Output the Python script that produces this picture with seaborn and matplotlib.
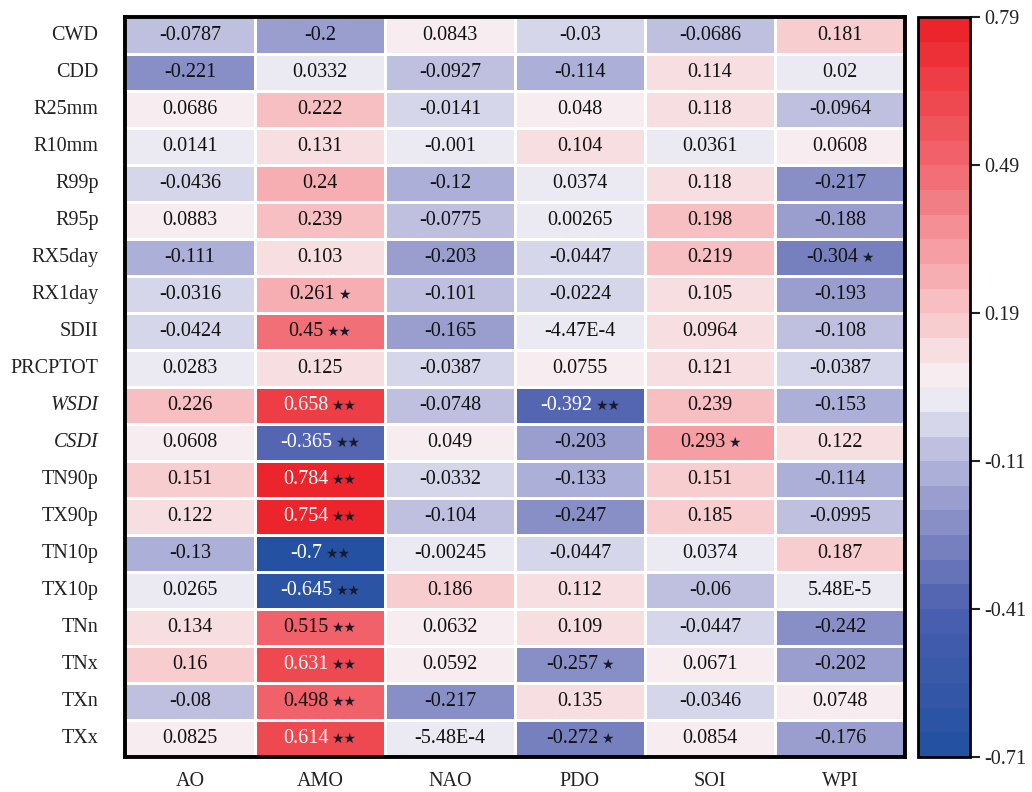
import numpy as np
import pandas as pd
import seaborn as sns
import matplotlib
matplotlib.use("Agg")
import matplotlib.pyplot as plt
from matplotlib.colors import LinearSegmentedColormap, ListedColormap
from matplotlib.offsetbox import TextArea, HPacker, AnnotationBbox

# Climate extreme indices (rows) and circulation indices (columns)
indices = ["CWD", "CDD", "R25mm", "R10mm", "R99p", "R95p", "RX5day", "RX1day",
           "SDII", "PRCPTOT", "WSDI", "CSDI", "TN90p", "TX90p", "TN10p", "TX10p",
           "TNn", "TNx", "TXn", "TXx"]
modes = ["AO", "AMO", "NAO", "PDO", "SOI", "WPI"]

ao = [-0.0787, -0.221, 0.0686, 0.0141, -0.0436, 0.0883, -0.111, -0.0316, -0.0424, 0.0283,
      0.226, 0.0608, 0.151, 0.122, -0.13, 0.0265, 0.134, 0.16, -0.08, 0.0825]
amo = [-0.2, 0.0332, 0.222, 0.131, 0.24, 0.239, 0.103, 0.261, 0.45, 0.125,
       0.658, -0.365, 0.784, 0.754, -0.7, -0.645, 0.515, 0.631, 0.498, 0.614]
nao = [0.0843, -0.0927, -0.0141, -0.001, -0.12, -0.0775, -0.203, -0.101, -0.165, -0.0387,
       -0.0748, 0.049, -0.0332, -0.104, -0.00245, 0.186, 0.0632, 0.0592, -0.217, -5.48e-4]
pdo = [-0.03, -0.114, 0.048, 0.104, 0.0374, 0.00265, -0.0447, -0.0224, -4.47e-4, 0.0755,
       -0.392, -0.203, -0.133, -0.247, -0.0447, 0.112, 0.109, -0.257, 0.135, -0.272]
soi = [-0.0686, 0.114, 0.118, 0.0361, 0.118, 0.198, 0.219, 0.105, 0.0964, 0.121,
       0.239, 0.293, 0.151, 0.185, 0.0374, -0.06, -0.0447, 0.0671, -0.0346, 0.0854]
wpi = [0.181, 0.02, -0.0964, 0.0608, -0.217, -0.188, -0.304, -0.193, -0.108, -0.0387,
       -0.153, 0.122, -0.114, -0.0995, 0.187, 5.48e-5, -0.242, -0.202, 0.0748, -0.176]

# Printed labels (as reported) for each column
ao_txt = ["-0.0787", "-0.221", "0.0686", "0.0141", "-0.0436", "0.0883", "-0.111", "-0.0316", "-0.0424", "0.0283",
          "0.226", "0.0608", "0.151", "0.122", "-0.13", "0.0265", "0.134", "0.16", "-0.08", "0.0825"]
amo_txt = ["-0.2", "0.0332", "0.222", "0.131", "0.24", "0.239", "0.103", "0.261", "0.45", "0.125",
           "0.658", "-0.365", "0.784", "0.754", "-0.7", "-0.645", "0.515", "0.631", "0.498", "0.614"]
nao_txt = ["0.0843", "-0.0927", "-0.0141", "-0.001", "-0.12", "-0.0775", "-0.203", "-0.101", "-0.165", "-0.0387",
           "-0.0748", "0.049", "-0.0332", "-0.104", "-0.00245", "0.186", "0.0632", "0.0592", "-0.217", "-5.48E-4"]
pdo_txt = ["-0.03", "-0.114", "0.048", "0.104", "0.0374", "0.00265", "-0.0447", "-0.0224", "-4.47E-4", "0.0755",
           "-0.392", "-0.203", "-0.133", "-0.247", "-0.0447", "0.112", "0.109", "-0.257", "0.135", "-0.272"]
soi_txt = ["-0.0686", "0.114", "0.118", "0.0361", "0.118", "0.198", "0.219", "0.105", "0.0964", "0.121",
           "0.239", "0.293", "0.151", "0.185", "0.0374", "-0.06", "-0.0447", "0.0671", "-0.0346", "0.0854"]
wpi_txt = ["0.181", "0.02", "-0.0964", "0.0608", "-0.217", "-0.188", "-0.304", "-0.193", "-0.108", "-0.0387",
           "-0.153", "0.122", "-0.114", "-0.0995", "0.187", "5.48E-5", "-0.242", "-0.202", "0.0748", "-0.176"]

# Significance markers (* p<0.05, ** p<0.01)
amo_sig = ["", "", "", "", "", "", "", "*", "**", "",
           "**", "**", "**", "**", "**", "**", "**", "**", "**", "**"]
pdo_sig = ["", "", "", "", "", "", "", "", "", "",
           "**", "", "", "", "", "", "", "*", "", "*"]
soi_sig = ["", "", "", "", "", "", "", "", "", "",
           "", "*", "", "", "", "", "", "", "", ""]
wpi_sig = ["", "", "", "", "", "", "*", "", "", "",
           "", "", "", "", "", "", "", "", "", ""]
no_sig = [""] * len(indices)

cbar_ticks = [-0.71, -0.41, -0.11, 0.19, 0.49, 0.79]
vmin, vmax = -0.71, 0.79

values = pd.DataFrame({"AO": ao, "AMO": amo, "NAO": nao, "PDO": pdo, "SOI": soi, "WPI": wpi},
                      index=indices)[modes]
labels = pd.DataFrame({"AO": ao_txt, "AMO": amo_txt, "NAO": nao_txt, "PDO": pdo_txt,
                       "SOI": soi_txt, "WPI": wpi_txt}, index=indices)[modes]
signif = pd.DataFrame({"AO": no_sig, "AMO": amo_sig, "NAO": no_sig, "PDO": pdo_sig,
                       "SOI": soi_sig, "WPI": wpi_sig}, index=indices)[modes]

# Stepped blue-white-red palette, 30 levels of 0.05
nodes = [(0.0, "#2250A2"), (0.2, "#4C5FAF"), (0.3, "#7F87C3"), (0.4, "#B4B6DB"),
         (0.5, "#F7F5F8"), (0.6, "#F8C6C9"), (0.8, "#F06870"), (1.0, "#EC1F26")]
smooth = LinearSegmentedColormap.from_list("bwr_smooth", nodes)
n_levels = 30
cmap = ListedColormap(smooth((np.arange(n_levels) + 0.5) / n_levels))

plt.rcParams["font.family"] = ["Liberation Serif", "DejaVu Sans"]
plt.rcParams["axes.linewidth"] = 2.5

fig = plt.figure(figsize=(10.32, 7.92), dpi=100, facecolor="white")
ax = fig.add_axes([0.121, 0.044, 0.756, 0.9343])
cax = fig.add_axes([0.8895, 0.044, 0.0504, 0.9343])

sns.heatmap(values, ax=ax, cbar_ax=cax, cmap=cmap, vmin=vmin, vmax=vmax,
            linewidths=2, linecolor="white", annot=False)

for s in ax.spines.values():
    s.set_visible(True)
    s.set_linewidth(2.8)
    s.set_color("black")

ax.tick_params(axis="both", length=0, labelsize=14.5, colors="#222222")
ax.tick_params(axis="y", pad=19)
ax.tick_params(axis="x", pad=11)
ax.set_yticklabels(indices, rotation=0)
ax.set_xticklabels(modes, rotation=0)
for lab in ax.get_yticklabels():
    if lab.get_text() in ("WSDI", "CSDI"):
        lab.set_fontstyle("italic")
ax.set_xlabel("")
ax.set_ylabel("")

# Cell annotations: value followed by significance stars
for i, row in enumerate(indices):
    for j, col in enumerate(modes):
        v = values.loc[row, col]
        txt = labels.loc[row, col]
        sig = signif.loc[row, col]
        color = "white" if (v > 0.55 or v < -0.35) else "#111111"
        parts = [TextArea(txt, textprops=dict(color=color, fontsize=14.5,
                                              family=["Liberation Serif", "DejaVu Sans"]))]
        if sig:
            stars = "\u2605" * len(sig)
            parts.append(TextArea(stars, textprops=dict(color="#1a1a2e", fontsize=10,
                                                        family=["DejaVu Sans"])))
        box = HPacker(children=parts, align="baseline", pad=0, sep=2)
        ab = AnnotationBbox(box, (j + 0.5, i + 0.5), xycoords="data", frameon=False,
                            box_alignment=(0.5, 0.5), pad=0)
        ax.add_artist(ab)

cbar = ax.collections[0].colorbar
cbar.set_ticks(cbar_ticks)
cbar.set_ticklabels([f"{t:.2f}" for t in cbar_ticks])
cbar.outline.set_linewidth(2)
cbar.outline.set_edgecolor("black")
cax.tick_params(length=7, width=1.5, labelsize=14.5, colors="#222222", pad=3)

fig.savefig("out.png", dpi=100, facecolor="white")
